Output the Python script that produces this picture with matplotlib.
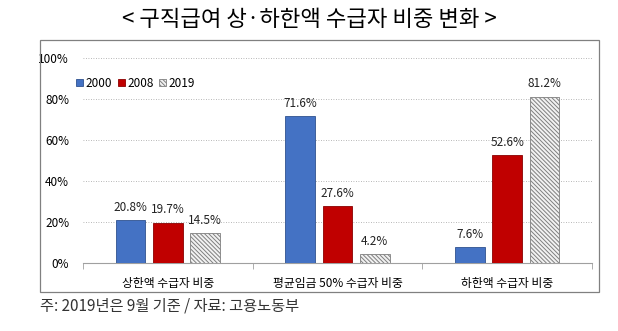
import numpy as np
import matplotlib
matplotlib.use("Agg")
import matplotlib.pyplot as plt
from matplotlib.patches import Rectangle
from matplotlib.ticker import FuncFormatter

plt.rcParams['font.family'] = ['Noto Sans CJK KR', 'DejaVu Sans']
plt.rcParams['hatch.linewidth'] = 0.7
plt.rcParams['hatch.color'] = "#8C8C8C"

categories = ["상한액 수급자 비중", "평균임금 50% 수급자 비중", "하한액 수급자 비중"]
years = ["2000", "2008", "2019"]
share_2000 = [20.8, 71.6, 7.6]
share_2008 = [19.7, 27.6, 52.6]
share_2019 = [14.5, 4.2, 81.2]
title = "< 구직급여 상·하한액 수급자 비중 변화 >"
footnote = "주: 2019년은 9월 기준 / 자료: 고용노동부"

fig = plt.figure(figsize=(6.18, 3.31), dpi=100)
fig.patch.set_facecolor("white")

# outer box of the chart
fig.patches.append(Rectangle((40 / 618, 1 - 292 / 331), 559 / 618, 252 / 331,
                             transform=fig.transFigure, fill=False,
                             edgecolor="#808080", linewidth=0.9))
fig.text(0.5, 1 - 20 / 331, title, ha="center", va="center", fontsize=16)
fig.text(40 / 618, 1 - 306 / 331, footnote, ha="left", va="center",
         fontsize=11, color="#333333")

ax = fig.add_axes([83 / 618, 1 - 263 / 331, 509 / 618, 205 / 331])

x = np.arange(len(categories))
w = 0.175
step = 0.22
ax.bar(x - step, share_2000, w, color="#4472C4", edgecolor="#2F528F",
       linewidth=0.6, label=years[0], zorder=3)
ax.bar(x, share_2008, w, color="#C00000", edgecolor="#8B0000",
       linewidth=0.6, label=years[1], zorder=3)
ax.bar(x + step, share_2019, w, color="#F2F2F2", edgecolor="#7F7F7F",
       hatch="\\\\\\\\\\\\\\\\", linewidth=0.6, label=years[2], zorder=3)

for offs, vals in zip([-step, 0, step], [share_2000, share_2008, share_2019]):
    for xi, v in zip(x, vals):
        ax.text(xi + offs, v + 3, f"{v:.1f}%", ha="center", va="bottom",
                fontsize=8.5, color="#222222")

ax.set_xlim(-0.5, 2.5)
ax.set_ylim(0, 100)
ax.set_yticks([0, 20, 40, 60, 80, 100])
ax.yaxis.set_major_formatter(FuncFormatter(lambda v, p: f"{v:.0f}%"))
ax.yaxis.grid(True, linestyle=(0, (1, 2)), color="#A0A0A0", linewidth=0.6, zorder=0)
ax.tick_params(axis="y", length=0, pad=10, labelsize=8.5)

ax.set_xticks(x)
ax.set_xticklabels(categories, fontsize=8.5)
ax.set_xticks([-0.5, 0.5, 1.5, 2.5], minor=True)
ax.tick_params(axis="x", which="major", length=0, pad=10)
ax.tick_params(axis="x", which="minor", length=4, color="#A0A0A0", direction="out")

for side in ["top", "right", "left"]:
    ax.spines[side].set_visible(False)
ax.spines["bottom"].set_color("#A0A0A0")

ax.legend(loc="upper left", bbox_to_anchor=(-0.035, 0.96), ncol=3, frameon=False,
          fontsize=8.5, handlelength=0.6, handleheight=0.6, handletextpad=0.2,
          columnspacing=0.5)

fig.savefig("out.png", dpi=100)
